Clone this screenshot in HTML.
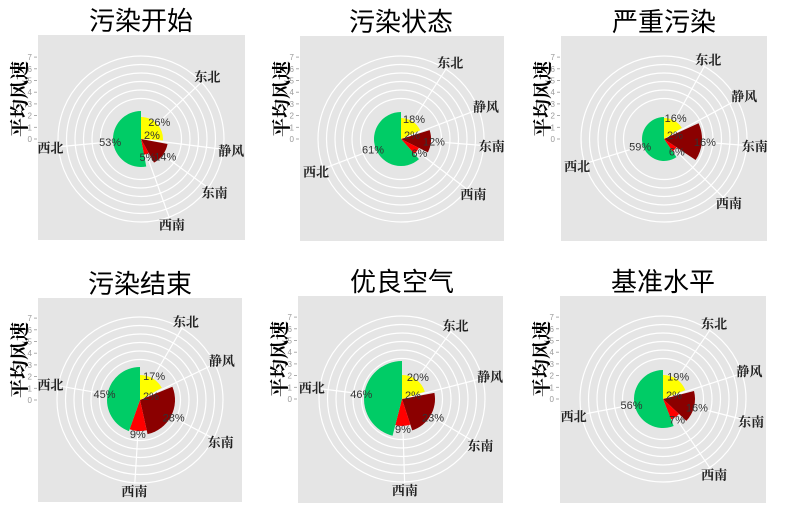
<!DOCTYPE html>
<html><head><meta charset="utf-8"><style>
html,body{margin:0;padding:0;background:#fff;}
svg{display:block;}
</style></head><body>
<svg id="s" width="785" height="520" xmlns="http://www.w3.org/2000/svg"></svg>
<script>
const NS="http://www.w3.org/2000/svg";
const s=document.getElementById('s');
function el(t,a,txt){const e=document.createElementNS(NS,t);for(const k in a)e.setAttribute(k,a[k]);if(txt!==undefined)e.textContent=txt;s.appendChild(e);return e;}
const cols=['#ffff00','#cccccc','#8b0000','#ff0000','#00cc66'];
const names=['东北','静风','东南','西南','西北'];
const P=[
 {t:'污染开始',bx:38,by:35,bw:207,bh:205,cx:141,cy:139,p:[26,2,14,5,53],r:[22,0,27,16,28]},
 {t:'污染状态',bx:300,by:36,bw:204,bh:205,cx:401,cy:139,p:[18,2,12,6,61],r:[21,0,30,20,27]},
 {t:'严重污染',bx:561,by:36,bw:206,bh:205,cx:664,cy:139,p:[16,2,16,6,59],r:[21,0,38,15,22]},
 {t:'污染结束',bx:38,by:298,bw:204,bh:204,cx:140,cy:400,p:[17,2,28,9,45],r:[25,0,35,31,33]},
 {t:'优良空气',bx:298,by:296,bw:205,bh:207,cx:402,cy:399,p:[20,2,23,9,46],r:[24,0,33,27,38]},
 {t:'基准水平',bx:560,by:296,bw:206,bh:207,cx:663,cy:399,p:[19,2,16,7,56],r:[24,0,32,22,29]}
];
function pt(cx,cy,r,deg){const a=deg*Math.PI/180;return [cx+r*Math.sin(a),cy-r*Math.cos(a)];}
P.forEach(q=>{
 el('rect',{x:q.bx,y:q.by,width:q.bw,height:q.bh,fill:'#e5e5e5'});
 el('text',{x:q.cx,y:q.by-5,'text-anchor':'middle','font-size':26,'font-family':'"Liberation Sans","Noto Sans CJK SC",sans-serif',fill:'#000'},q.t);
 for(let i=0;i<=7;i++){const y=q.cy-i*11.7;
  el('text',{x:q.bx-6,y:y+3,'text-anchor':'end','font-size':8,'font-family':'"Liberation Sans",sans-serif',fill:'#999'},i);
  el('line',{x1:q.bx-4,x2:q.bx-1,y1:y,y2:y,stroke:'#999','stroke-width':0.8});}
 el('text',{x:0,y:0,'text-anchor':'middle','font-size':19,'font-family':'"Noto Serif CJK SC",serif','font-weight':'bold',fill:'#000',transform:`translate(${q.bx-12},${q.cy-40}) rotate(-90)`},'平均风速');
 for(let k=0;k<6;k++)el('circle',{cx:q.cx,cy:q.cy,r:83-8.5*k,fill:'none',stroke:'#fff','stroke-width':1.2});
 const tot=q.p.reduce((a,b)=>a+b,0);
 let a0=0;const mids=[];
 q.p.forEach((v,i)=>{const a1=a0+v/tot*360;mids.push([a0,a1]);a0=a1;});
 mids.forEach((m,i)=>{const mid=(m[0]+m[1])/2;const e=pt(q.cx,q.cy,84,mid);
  el('line',{x1:q.cx,y1:q.cy,x2:e[0],y2:e[1],stroke:'#fff','stroke-width':1.2});});
 mids.forEach((m,i)=>{const r=q.r[i];if(!r)return;const A=pt(q.cx,q.cy,r,m[0]),B=pt(q.cx,q.cy,r,m[1]);
  const large=(m[1]-m[0])>180?1:0;
  el('path',{d:`M${q.cx},${q.cy}L${A[0]},${A[1]}A${r},${r} 0 ${large} 1 ${B[0]},${B[1]}Z`,fill:cols[i]});});
 mids.forEach((m,i)=>{const mid=(m[0]+m[1])/2;
  const L=pt(q.cx,q.cy,91,mid);
  el('text',{x:L[0],y:L[1]+5,'text-anchor':'middle','font-size':13,'font-weight':'bold','font-family':'"Noto Serif CJK SC",serif',fill:'#222'},names[i]);
  let T;
  if(i==1){T=[q.cx+11,q.cy-4];}else{T=pt(q.cx,q.cy,q.r[i]+3,mid);}
  el('text',{x:T[0],y:T[1]+4,'text-anchor':'middle','font-size':11,'font-family':'"Liberation Sans",sans-serif',fill:'#333'},q.p[i]+'%');});
});
</script>
</body></html>
